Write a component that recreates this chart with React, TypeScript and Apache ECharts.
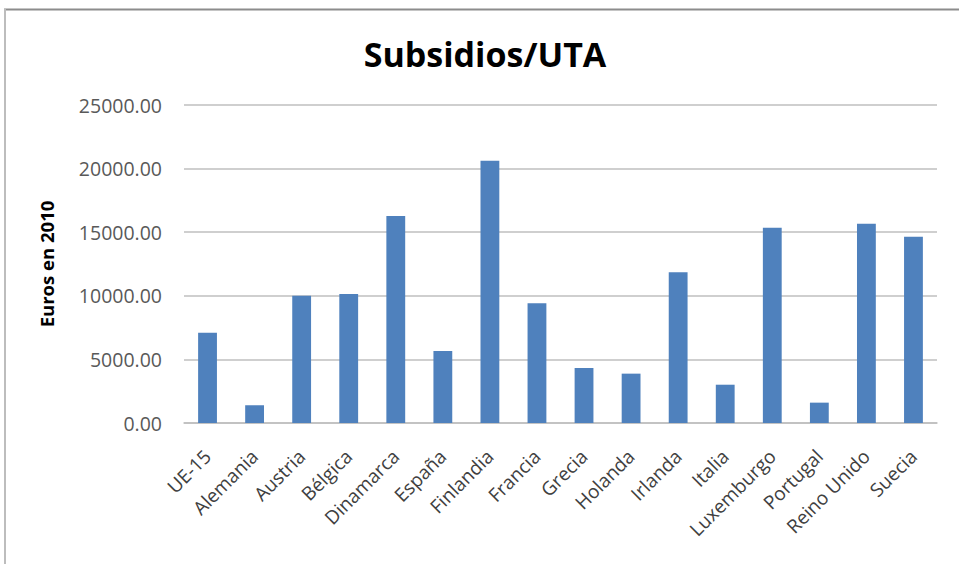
import React, { useEffect, useRef } from "react";
import * as echarts from "echarts";

const categories = [
  "UE-15", "Alemania", "Austria", "Bélgica", "Dinamarca", "España", "Finlandia", "Francia",
  "Grecia", "Holanda", "Irlanda", "Italia", "Luxemburgo", "Portugal", "Reino Unido", "Suecia",
];
const subsidios = [
  7100, 1390, 10000, 10150, 16280, 5660, 20620, 9410,
  4320, 3880, 11850, 3010, 15350, 1600, 15670, 14650,
];
const yTicks = { min: 0, max: 25000, interval: 5000 };
const titleText = "Subsidios/UTA";
const yAxisName = "Euros en 2010";

export default function App() {
  const ref = useRef<HTMLDivElement>(null);
  useEffect(() => {
    if (!ref.current) return;
    const chart = echarts.init(ref.current, null, { renderer: "svg" });
    chart.setOption({
      animation: false,
      backgroundColor: "#ffffff",
      title: {
        text: titleText,
        left: 480,
        textAlign: "center",
        top: 32,
        textStyle: { fontFamily: "Open Sans", fontWeight: "bold", fontSize: 34, color: "#000000" },
      },
      grid: { left: 184, right: 22, top: 105, bottom: 141, containLabel: false },
      xAxis: {
        type: "category",
        data: categories,
        axisLine: { show: true, lineStyle: { color: "#bfbfbf", width: 1.5 } },
        axisTick: { show: false },
        axisLabel: {
          rotate: 45,
          interval: 0,
          margin: 30,
          fontFamily: "Open Sans",
          fontSize: 19,
          color: "#404040",
        },
      },
      yAxis: {
        type: "value",
        min: yTicks.min,
        max: yTicks.max,
        interval: yTicks.interval,
        name: yAxisName,
        nameLocation: "middle",
        nameGap: 128,
        nameRotate: 90,
        nameTextStyle: { fontFamily: "Open Sans", fontWeight: "bold", fontSize: 18.5, color: "#000000" },
        axisLine: { show: false },
        axisTick: { show: false },
        splitLine: { lineStyle: { color: "#bfbfbf", width: 1.5 } },
        axisLabel: {
          margin: 22,
          fontFamily: "Open Sans",
          fontSize: 19.5,
          color: "#595959",
          formatter: (v: number) => v.toFixed(2),
        },
      },
      series: [
        {
          type: "bar",
          data: subsidios,
          barWidth: "40%",
          itemStyle: { color: "#4f81bd" },
        },
      ],
      graphic: [
        { type: "line", shape: { x1: 4, y1: 9.5, x2: 959, y2: 9.5 }, style: { stroke: "#8c8c8c", lineWidth: 2 } },
        { type: "line", shape: { x1: 5, y1: 9, x2: 5, y2: 564 }, style: { stroke: "#bdbdbd", lineWidth: 2 } },
      ],
    });
    return () => chart.dispose();
  }, []);
  return <div ref={ref} style={{ width: 959, height: 564, position: "absolute", left: 0, top: 0 }} />;
}
